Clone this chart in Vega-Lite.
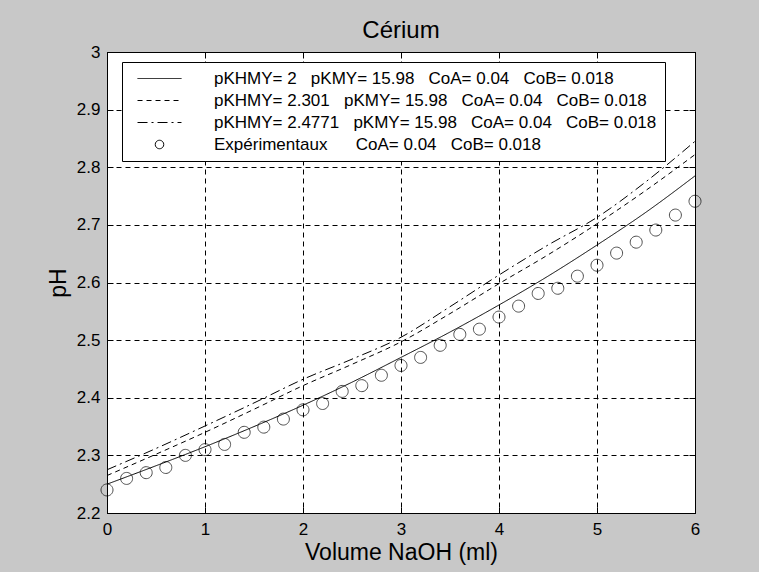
{
  "$schema": "https://vega.github.io/schema/vega-lite/v6.json",
  "autosize": "none",
  "width": 588,
  "height": 461,
  "padding": {"left": 107, "top": 52, "right": 64, "bottom": 59},
  "background": "#c8c8c8",
  "title": {"text": "Cérium", "fontSize": 24, "font": "Liberation Sans", "fontWeight": "normal", "color": "black", "offset": 0},
  "config": {
    "view": {"fill": "white", "stroke": "black", "strokeWidth": 1},
    "font": "Liberation Sans",
    "axis": {
      "labelFont": "Liberation Sans", "labelFontSize": 17, "labelColor": "black", "labelFlush": false, "labelOverlap": false,
      "titleFont": "Liberation Sans", "titleFontSize": 23, "titleFontWeight": "normal", "titleColor": "black",
      "domainColor": "black", "tickColor": "black", "tickSize": -6,
      "gridColor": "black", "gridDash": [5, 4], "gridOpacity": 1, "gridWidth": 1
    }
  },
  "datasets": {
    "courbes": [
      {"v": 0, "ph": 2.250, "serie": "A"}, {"v": 0.5, "ph": 2.282, "serie": "A"}, {"v": 1, "ph": 2.315, "serie": "A"},
      {"v": 1.5, "ph": 2.350, "serie": "A"}, {"v": 2, "ph": 2.387, "serie": "A"}, {"v": 2.5, "ph": 2.427, "serie": "A"},
      {"v": 3, "ph": 2.470, "serie": "A"}, {"v": 3.5, "ph": 2.514, "serie": "A"}, {"v": 4, "ph": 2.561, "serie": "A"},
      {"v": 4.5, "ph": 2.611, "serie": "A"}, {"v": 5, "ph": 2.665, "serie": "A"}, {"v": 5.5, "ph": 2.722, "serie": "A"},
      {"v": 6, "ph": 2.785, "serie": "A"},
      {"v": 0, "ph": 2.265, "serie": "B"}, {"v": 0.5, "ph": 2.302, "serie": "B"}, {"v": 1, "ph": 2.340, "serie": "B"},
      {"v": 1.5, "ph": 2.380, "serie": "B"}, {"v": 2, "ph": 2.421, "serie": "B"}, {"v": 2.5, "ph": 2.458, "serie": "B"},
      {"v": 3, "ph": 2.497, "serie": "B"}, {"v": 3.5, "ph": 2.546, "serie": "B"}, {"v": 4, "ph": 2.598, "serie": "B"},
      {"v": 4.5, "ph": 2.648, "serie": "B"}, {"v": 5, "ph": 2.702, "serie": "B"}, {"v": 5.5, "ph": 2.760, "serie": "B"},
      {"v": 6, "ph": 2.822, "serie": "B"},
      {"v": 0, "ph": 2.275, "serie": "C"}, {"v": 0.5, "ph": 2.312, "serie": "C"}, {"v": 1, "ph": 2.351, "serie": "C"},
      {"v": 1.5, "ph": 2.391, "serie": "C"}, {"v": 2, "ph": 2.432, "serie": "C"}, {"v": 2.5, "ph": 2.467, "serie": "C"},
      {"v": 3, "ph": 2.505, "serie": "C"}, {"v": 3.5, "ph": 2.558, "serie": "C"}, {"v": 4, "ph": 2.613, "serie": "C"},
      {"v": 4.5, "ph": 2.665, "serie": "C"}, {"v": 5, "ph": 2.713, "serie": "C"}, {"v": 5.5, "ph": 2.775, "serie": "C"},
      {"v": 6, "ph": 2.845, "serie": "C"}
    ],
    "mesures": [
      {"v": 0, "ph": 2.240, "serie": "D"}, {"v": 0.2, "ph": 2.260, "serie": "D"}, {"v": 0.4, "ph": 2.270, "serie": "D"},
      {"v": 0.6, "ph": 2.279, "serie": "D"}, {"v": 0.8, "ph": 2.300, "serie": "D"}, {"v": 1.0, "ph": 2.310, "serie": "D"},
      {"v": 1.2, "ph": 2.319, "serie": "D"}, {"v": 1.4, "ph": 2.340, "serie": "D"}, {"v": 1.6, "ph": 2.349, "serie": "D"},
      {"v": 1.8, "ph": 2.363, "serie": "D"}, {"v": 2.0, "ph": 2.379, "serie": "D"}, {"v": 2.2, "ph": 2.390, "serie": "D"},
      {"v": 2.4, "ph": 2.411, "serie": "D"}, {"v": 2.6, "ph": 2.421, "serie": "D"}, {"v": 2.8, "ph": 2.439, "serie": "D"},
      {"v": 3.0, "ph": 2.456, "serie": "D"}, {"v": 3.2, "ph": 2.470, "serie": "D"}, {"v": 3.4, "ph": 2.491, "serie": "D"},
      {"v": 3.6, "ph": 2.510, "serie": "D"}, {"v": 3.8, "ph": 2.519, "serie": "D"}, {"v": 4.0, "ph": 2.540, "serie": "D"},
      {"v": 4.2, "ph": 2.559, "serie": "D"}, {"v": 4.4, "ph": 2.581, "serie": "D"}, {"v": 4.6, "ph": 2.590, "serie": "D"},
      {"v": 4.8, "ph": 2.611, "serie": "D"}, {"v": 5.0, "ph": 2.630, "serie": "D"}, {"v": 5.2, "ph": 2.651, "serie": "D"},
      {"v": 5.4, "ph": 2.670, "serie": "D"}, {"v": 5.6, "ph": 2.691, "serie": "D"}, {"v": 5.8, "ph": 2.717, "serie": "D"},
      {"v": 6.0, "ph": 2.741, "serie": "D"}
    ]
  },
  "resolve": {"axis": {"x": "independent", "y": "independent"}},
  "layer": [
    {
      "data": {"name": "courbes"},
      "mark": {"type": "line", "color": "black", "strokeWidth": 1, "interpolate": "monotone", "clip": false},
      "encoding": {
        "x": {"field": "v", "type": "quantitative", "scale": {"domain": [0, 6], "nice": false, "zero": false},
          "axis": {"orient": "bottom", "values": [0, 1, 2, 3, 4, 5, 6], "title": "Volume NaOH (ml)", "labelPadding": 14, "titlePadding": 4}},
        "y": {"field": "ph", "type": "quantitative", "scale": {"domain": [2.2, 3], "nice": false, "zero": false},
          "axis": {"orient": "left", "values": [2.2, 2.3, 2.4, 2.5, 2.6, 2.7, 2.8, 2.9, 3], "format": "~g", "title": "pH", "labelPadding": 13, "titlePadding": 6}},
        "strokeDash": {"field": "serie", "type": "nominal",
          "scale": {"domain": ["A", "B", "C", "D"], "range": [[1, 0], [5, 4], [10, 4, 2, 4], [1, 0]]},
          "legend": {
            "orient": "none", "legendX": 15, "legendY": 10, "title": null,
            "fillColor": "white", "strokeColor": "black", "padding": 8, "cornerRadius": 0,
            "labelFont": "Liberation Sans", "labelFontSize": 17, "labelColor": "black", "labelLimit": 0,
            "symbolSize": 196, "symbolOffset": 21, "labelOffset": 46, "rowPadding": 4,
            "symbolStrokeColor": "black", "symbolStrokeWidth": 1, "symbolFillColor": "transparent",
            "labelExpr": "datum.value == 'A' ? 'pKHMY=\u00a02\u00a0\u00a0\u00a0pKMY=\u00a015.98\u00a0\u00a0\u00a0CoA=\u00a00.04\u00a0\u00a0\u00a0CoB=\u00a00.018' : datum.value == 'B' ? 'pKHMY=\u00a02.301\u00a0\u00a0\u00a0pKMY=\u00a015.98\u00a0\u00a0\u00a0CoA=\u00a00.04\u00a0\u00a0\u00a0CoB=\u00a00.018' : datum.value == 'C' ? 'pKHMY=\u00a02.4771\u00a0\u00a0\u00a0pKMY=\u00a015.98\u00a0\u00a0\u00a0CoA=\u00a00.04\u00a0\u00a0\u00a0CoB=\u00a00.018' : 'Expérimentaux\u00a0\u00a0\u00a0\u00a0\u00a0\u00a0CoA=\u00a00.04\u00a0\u00a0\u00a0CoB=\u00a00.018'",
            "encode": {"symbols": {"update": {"fill": {"value": "transparent"}, "stroke": {"value": "black"}, "strokeWidth": {"value": 1}}}}
          }
        }
      }
    },
    {
      "data": {"name": "mesures"},
      "mark": {"type": "point", "filled": false, "color": "black", "strokeWidth": 1, "size": 391, "clip": false},
      "encoding": {
        "x": {"field": "v", "type": "quantitative",
          "axis": {"orient": "top", "values": [0, 1, 2, 3, 4, 5, 6], "labels": false, "grid": false, "title": null, "domain": false}},
        "y": {"field": "ph", "type": "quantitative",
          "axis": {"orient": "right", "values": [2.2, 2.3, 2.4, 2.5, 2.6, 2.7, 2.8, 2.9, 3], "labels": false, "grid": false, "title": null, "domain": false}},
        "shape": {"field": "serie", "type": "nominal",
          "scale": {"domain": ["A", "B", "C", "D"], "range": ["M-3.14,0L3.14,0", "M-3.14,0L3.14,0", "M-3.14,0L3.14,0", "M0,-0.607A0.607,0.607 0 1,1 0,0.607A0.607,0.607 0 1,1 0,-0.607Z"]}}
      }
    }
  ]
}
